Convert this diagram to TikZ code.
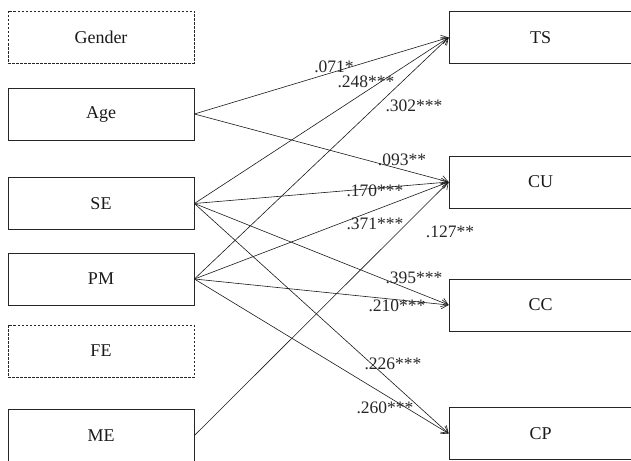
\documentclass[tikz,border=0pt]{standalone}
\usepackage{fontspec}
\setmainfont{Liberation Serif}
\usetikzlibrary{arrows.meta}
\begin{document}
\begin{tikzpicture}[x=1pt,y=-1pt,
 box/.style={draw=black!85, line width=0.8pt, minimum width=186pt, minimum height=52pt, inner sep=0pt, font=\fontsize{18}{21}\selectfont, text=black!90},
 rbox/.style={box, minimum width=183pt},
 dbox/.style={box, dash pattern=on 2.5pt off 1.5pt},
 lab/.style={font=\fontsize{17.5}{20}\selectfont, inner sep=0pt, text=black!85},
 arr/.style={-{Straight Barb[length=6.5pt,width=9pt]}, line width=0.6pt, draw=black!90}]
\clip (0,0) rectangle (631,460);
% left boxes
\node[dbox] (gender) at (101,37) {Gender};
\node[box]  (age)    at (101,114) {Age};
\node[box]  (se)     at (101,203.5) {SE};
\node[box]  (pm)     at (101,279) {PM};
\node[dbox] (fe)     at (101,351) {FE};
\node[box]  (me)     at (101,435.5) {ME};
% right boxes
\node[rbox] (ts) at (540.5,37.5) {TS};
\node[rbox] (cu) at (540.5,182) {CU};
\node[rbox] (cc) at (540.5,305) {CC};
\node[rbox] (cp) at (540.5,433.5) {CP};
% arrows
\draw[arr] (age.east) -- (ts.west);
\draw[arr] (age.east) -- (cu.west);
\draw[arr] (se.east) -- (ts.west);
\draw[arr] (se.east) -- (cu.west);
\draw[arr] (se.east) -- (cc.west);
\draw[arr] (se.east) -- (cp.west);
\draw[arr] (pm.east) -- (ts.west);
\draw[arr] (pm.east) -- (cu.west);
\draw[arr] (pm.east) -- (cc.west);
\draw[arr] (pm.east) -- (cp.west);
\draw[arr] (me.east) -- (cu.west);
% labels
\node[lab] (l1)  at (334,67) {.071*};
\node[lab] (l2)  at (366,82) {.248***};
\node[lab] (l3)  at (414,106) {.302***};
\node[lab] (l4)  at (402,160) {.093**};
\node[lab] (l5)  at (375,191) {.170***};
\node[lab] (l6)  at (375,224) {.371***};
\node[lab] (l7)  at (450,232) {.127**};
\node[lab] (l8)  at (414,278) {.395***};
\node[lab] (l9)  at (397,306) {.210***};
\node[lab] (l10) at (393,364) {.226***};
\node[lab] (l11) at (385,408) {.260***};
\end{tikzpicture}
\end{document}
